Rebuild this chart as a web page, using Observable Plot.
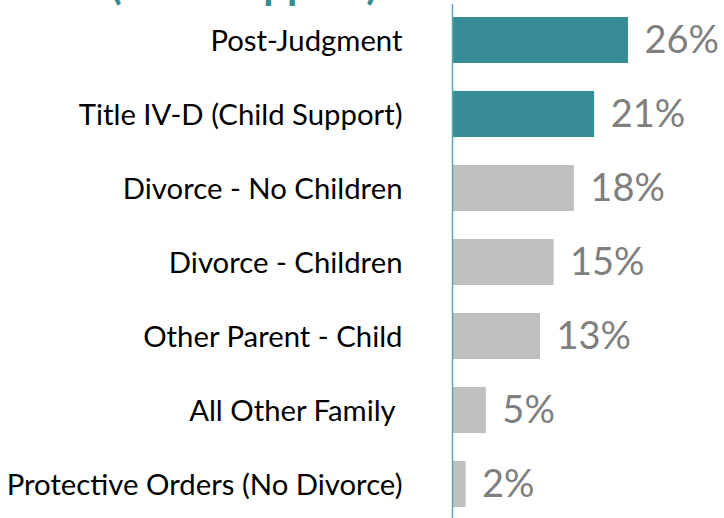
<!DOCTYPE html>
<html>
<head>
<meta charset="utf-8">
<script src="https://cdn.jsdelivr.net/npm/d3@7"></script>
<script src="https://cdn.jsdelivr.net/npm/@observablehq/plot@0.6"></script>
<style>
  html, body { margin: 0; padding: 0; background: #fff; overflow: hidden; }
  #wrap { position: relative; width: 724px; height: 518px; }
  #title { position: absolute; left: 0; top: -38px; width: 488px; text-align: center;
           font-family: Lato, sans-serif; font-weight: 700; font-size: 42px; color: #368c94;
           line-height: 42px; white-space: nowrap; }
  #chart { position: absolute; left: 0; top: 0; }
</style>
</head>
<body>
<div id="wrap">
  <div id="title">(Non-Support)</div>
  <div id="chart"></div>
</div>
<script>
const categories = [
  "Post-Judgment",
  "Title IV-D (Child Support)",
  "Divorce - No Children",
  "Divorce - Children",
  "Other Parent - Child",
  "All Other Family ",
  "Protective Orders (No Divorce)"
];
const values = [26, 21, 18, 15, 13, 5, 2];
const valueLabels = ["26%", "21%", "18%", "15%", "13%", "5%", "2%"];
const highlighted = [true, true, false, false, false, false, false];

const data = categories.map((c, i) => ({
  category: c, value: values[i], label: valueLabels[i], hi: highlighted[i]
}));

const chart = Plot.plot({
  width: 724,
  height: 518,
  marginLeft: 452,
  marginRight: 0,
  marginTop: 4,
  marginBottom: 0,
  x: { domain: [0, 26], range: [452, 628], axis: null },
  y: { domain: categories, range: [14, 511], paddingInner: 0.373, paddingOuter: 0, axis: null },
  marks: [
    Plot.barX(data, {
      x: "value", y: "category",
      fill: d => d.hi ? "#378c95" : "#bfbfbf"
    }),
    Plot.ruleX([0], { stroke: "#5aa7ae", strokeWidth: 1.5 }),
    Plot.text(data, {
      x: "value", y: "category", text: "label",
      textAnchor: "start", dx: 16,
      fill: "#7f7f7f", fontSize: 38, fontFamily: "Lato, sans-serif"
    }),
    Plot.text(data, {
      x: 0, y: "category", text: "category",
      textAnchor: "end", dx: -50, dy: 1,
      fill: "#000000", fontSize: 29.3, fontFamily: "Lato, sans-serif"
    })
  ]
});
document.getElementById("chart").appendChild(chart);
</script>
</body>
</html>
